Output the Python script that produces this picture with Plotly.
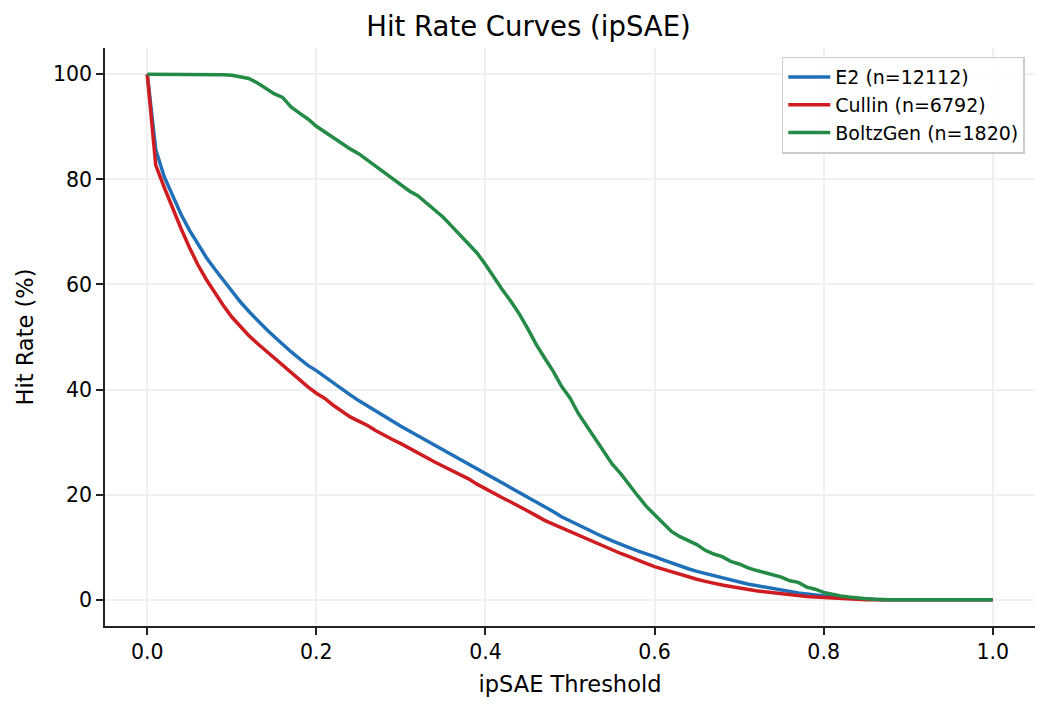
import numpy as np
import plotly.graph_objects as go

# thresholds 0.00 .. 1.00 in steps of 0.01
thresholds = np.round(np.arange(0, 1.001, 0.01), 2)

# hit rate (%), one value per threshold
e2_rate = [
    100.0, 85.7, 80.5, 76.8, 73.3, 70.3, 67.6, 65.1, 62.9, 60.8,
    58.7, 56.7, 54.9, 53.2, 51.6, 50.1, 48.6, 47.2, 45.9, 44.6,
    43.6, 42.4, 41.3, 40.1, 39.0, 37.9, 36.9, 35.9, 34.9, 33.9,
    33.0, 32.1, 31.2, 30.3, 29.4, 28.5, 27.7, 26.8, 25.9, 25.0,
    24.1, 23.2, 22.3, 21.4, 20.4, 19.5, 18.6, 17.7, 16.8, 15.8,
    15.0, 14.2, 13.4, 12.7, 11.9, 11.2, 10.5, 9.9, 9.3, 8.8,
    8.2, 7.6, 7.0, 6.5, 5.9, 5.4, 5.0, 4.5, 4.1, 3.7,
    3.4, 3.0, 2.7, 2.4, 2.1, 1.8, 1.6, 1.3, 1.1, 0.9,
    0.7, 0.5, 0.4, 0.3, 0.2, 0.1, 0.1, 0.0, 0.0, 0.0,
    0.0, 0.0, 0.0, 0.0, 0.0, 0.0, 0.0, 0.0, 0.0, 0.0,
    0.0,
]
cullin_rate = [
    100.0, 82.7, 78.5, 74.5, 70.6, 67.0, 63.7, 60.9, 58.4, 56.0,
    53.8, 52.0, 50.3, 48.8, 47.4, 46.0, 44.5, 43.1, 41.8, 40.5,
    39.3, 38.3, 37.0, 35.8, 34.8, 34.0, 33.2, 32.2, 31.3, 30.5,
    29.7, 28.8, 27.9, 27.0, 26.2, 25.4, 24.6, 23.8, 23.0, 22.0,
    21.1, 20.2, 19.4, 18.6, 17.8, 16.9, 16.0, 15.1, 14.4, 13.7,
    13.0, 12.2, 11.5, 10.9, 10.1, 9.5, 8.8, 8.2, 7.5, 6.9,
    6.3, 5.8, 5.3, 4.8, 4.4, 3.9, 3.5, 3.1, 2.8, 2.5,
    2.2, 2.0, 1.7, 1.5, 1.3, 1.1, 1.0, 0.8, 0.6, 0.5,
    0.4, 0.3, 0.2, 0.1, 0.1, 0.0, 0.0, 0.0, 0.0, 0.0,
    0.0, 0.0, 0.0, 0.0, 0.0, 0.0, 0.0, 0.0, 0.0, 0.0,
    0.0,
]
boltzgen_rate = [
    100.0, 100.0, 100.0, 100.0, 100.0, 100.0, 100.0, 100.0, 100.0, 99.9,
    99.8, 99.5, 99.2, 98.4, 97.4, 96.3, 95.6, 93.8, 92.6, 91.5,
    90.1, 89.0, 87.9, 86.8, 85.8, 84.9, 83.7, 82.4, 81.4, 80.2,
    78.9, 77.8, 76.9, 75.6, 74.2, 72.8, 71.1, 69.4, 67.9, 66.0,
    63.8, 61.3, 59.0, 56.8, 54.4, 51.6, 48.6, 46.0, 43.5, 40.6,
    38.4, 35.4, 33.0, 30.8, 28.3, 25.8, 24.0, 21.8, 19.8, 17.8,
    16.2, 14.6, 13.0, 12.0, 11.3, 10.5, 9.4, 8.7, 8.2, 7.3,
    6.8, 6.1, 5.6, 5.2, 4.7, 4.3, 3.6, 3.3, 2.4, 2.0,
    1.4, 1.0, 0.7, 0.5, 0.3, 0.2, 0.1, 0.0, 0.0, 0.0,
    0.0, 0.0, 0.0, 0.0, 0.0, 0.0, 0.0, 0.0, 0.0, 0.0,
    0.0,
]

series_names = ["E2 (n=12112)", "Cullin (n=6792)", "BoltzGen (n=1820)"]
series_rates = [e2_rate, cullin_rate, boltzgen_rate]
series_colors = ["#1f70b8", "#cf1c20", "#238b45"]

fig = go.Figure()

for name, rate, color in zip(series_names, series_rates, series_colors):
    fig.add_trace(
        go.Scatter(
            x=thresholds,
            y=rate,
            mode="lines",
            name=name,
            line=dict(color=color, width=3.5),
        )
    )

axis_common = dict(
    showline=True,
    linewidth=1.6,
    linecolor="#222222",
    mirror=False,
    ticks="outside",
    ticklen=7,
    tickwidth=1.6,
    tickcolor="#222222",
    showgrid=True,
    gridcolor="#f0f0f0",
    gridwidth=1.5,
    zeroline=False,
    tickfont=dict(size=20.5, color="black"),
)

# page body has an 8px margin, so the figure is a bit smaller than the window
fig.update_layout(
    width=1041,
    height=702,
    plot_bgcolor="white",
    paper_bgcolor="white",
    font=dict(family="DejaVu Sans", color="black"),
    margin=dict(l=97, r=14, t=40, b=84),
    title=dict(
        text="Hit Rate Curves (ipSAE)",
        x=0.5,
        xanchor="center",
        y=0.974,
        yanchor="middle",
        font=dict(size=27.5),
    ),
    xaxis=dict(
        axis_common,
        range=[-0.05, 1.05],
        tickvals=[0, 0.2, 0.4, 0.6, 0.8, 1.0],
        ticktext=["0.0", "0.2", "0.4", "0.6", "0.8", "1.0"],
        title=dict(text="ipSAE Threshold", font=dict(size=22.5), standoff=13),
    ),
    yaxis=dict(
        axis_common,
        range=[-5, 105],
        tickvals=[0, 20, 40, 60, 80, 100],
        title=dict(text="Hit Rate (%)", font=dict(size=22.5), standoff=13),
    ),
    legend=dict(
        x=0.989,
        y=0.985,
        xanchor="right",
        yanchor="top",
        bgcolor="rgba(255,255,255,0.85)",
        bordercolor="#cccccc",
        borderwidth=1.5,
        font=dict(size=19),
        itemwidth=42,
        tracegroupgap=0,
    ),
    showlegend=True,
)

fig.write_html("out.html")
